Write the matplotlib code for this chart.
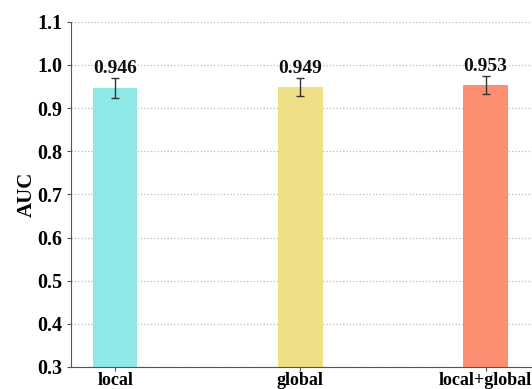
import matplotlib
matplotlib.use("Agg")
import matplotlib.pyplot as plt
import numpy as np

categories = ["local", "global", "local+global"]
auc = [0.946, 0.949, 0.953]
auc_err = [0.023, 0.021, 0.021]
colors = ["#8ee9e6", "#efdf86", "#fd8e72"]
yticks = [0.3, 0.4, 0.5, 0.6, 0.7, 0.8, 0.9, 1.0, 1.1]

plt.rcParams["font.family"] = ["Liberation Serif", "DejaVu Serif"]
plt.rcParams["font.weight"] = "bold"

fig = plt.figure(figsize=(5.32, 3.89), dpi=100)
ax = fig.add_axes([0.1335, 0.0566, 0.8665, 0.8876])

x = np.arange(len(categories))
ax.bar(x, auc, width=0.24, color=colors, zorder=2,
       yerr=auc_err, capsize=3,
       error_kw=dict(ecolor="#333333", elinewidth=1.0, capthick=1.0, zorder=3))

for xi, v, e in zip(x, auc, auc_err):
    ax.text(xi, v + e + 0.003, f"{v:.3f}", ha="center", va="bottom",
            fontsize=14, fontweight="bold", color="#111111")

ax.set_ylim(0.3, 1.1)
ax.set_xlim(-0.238, 2.25)
ax.set_yticks(yticks)
ax.set_yticklabels([f"{t:.1f}" for t in yticks])
ax.set_xticks(x)
ax.set_xticklabels(categories)
ax.tick_params(axis="y", labelsize=14.5, length=3, width=0.8, color="#555555", pad=3)
ax.tick_params(axis="x", labelsize=13, length=3, width=0.8, color="#555555", pad=0.5)
for lbl in ax.get_xticklabels() + ax.get_yticklabels():
    lbl.set_fontweight("bold")
ax.set_ylabel("AUC", fontsize=15, fontweight="bold", labelpad=0.5)

ax.grid(axis="y", linestyle=":", color="#bbbbbb", linewidth=0.9, zorder=0)
ax.spines["top"].set_visible(False)
ax.spines["right"].set_visible(False)
ax.spines["left"].set_color("#555555")
ax.spines["bottom"].set_color("#555555")

fig.savefig("out.png", dpi=100)
